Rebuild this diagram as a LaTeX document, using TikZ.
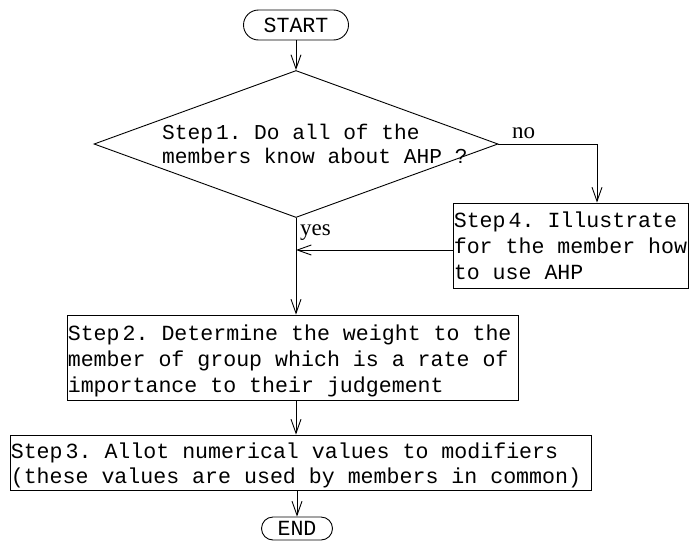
\documentclass[tikz,border=0pt]{standalone}
\usepackage{fontspec}
\setmonofont{Liberation Mono}
\newfontfamily\lblfont{Liberation Serif}
\usetikzlibrary{shapes.geometric,shapes.misc,arrows.meta}
\begin{document}
\begin{tikzpicture}[x=1pt,y=-1pt,
  every node/.style={inner sep=0pt},
  boxtext/.style={font=\ttfamily\fontsize{21.6}{26}\selectfont},
  pill/.style={draw, rounded rectangle, line width=0.9pt, boxtext},
  decision/.style={draw, diamond, line width=0.9pt, minimum width=404pt, minimum height=147pt, inner sep=0pt},
  stepbox/.style={draw, rectangle, line width=0.9pt, boxtext, align=flush left, inner xsep=0.8pt, inner ysep=0pt},
  lbl/.style={font=\lblfont\fontsize{23}{23}\selectfont},
  arr/.style={draw, line width=0.9pt, -{Straight Barb[length=14pt,width=10pt]}}
]
\useasboundingbox (0,0) rectangle (690,541);

\node[pill, minimum width=105pt, minimum height=30pt] (start) at (296,25) {START};
\node[decision] (d) at (296,144) {};
\node[font=\ttfamily\fontsize{21.2}{24}\selectfont, anchor=north west, align=flush left] (dtext) at (162,123.5)
  {\mbox{Step\hspace{3pt}1. Do all of the}\\\mbox{members know about AHP ?}};
\node[stepbox, text width=233.4pt, minimum height=85pt] (s4) at (570.5,245.5)
  {\mbox{Step\hspace{3pt}4. Illustrate}\\\mbox{for the member how}\\\mbox{to use AHP}\par\vspace{10pt}};
\node[stepbox, text width=449.4pt, minimum height=85pt] (s2) at (292.5,357.5)
  {\mbox{\rule{0pt}{22.5pt}Step\hspace{3pt}2. Determine the weight to the}\\\mbox{member of group which is a rate of}\\\mbox{importance to their judgement}};
\node[stepbox, font=\ttfamily\fontsize{21.6}{25}\selectfont, text width=579.4pt, minimum height=55pt] (s3) at (300.5,462.5)
  {\mbox{\rule{0pt}{20.5pt}Step\hspace{3pt}3. Allot numerical values to modifiers}\\\mbox{(these values are used by members in common)}};
\node[pill, minimum width=71pt, minimum height=23pt] (end) at (297,528.5) {END};

\node[lbl, anchor=base west] (no) at (512,138) {no};
\node[lbl, anchor=base west] (yes) at (300,235) {yes};

\coordinate (nocorner) at (597,144);
\coordinate (join) at (296,250);

\draw[arr] (start.south) -- (d.north);
\draw[arr] (d.east) -- (nocorner) -- (nocorner |- s4.north);
\draw[arr] (d.south) -- (d.south |- s2.north);
\draw[arr] (s4.west |- join) -- (join);
\draw[arr] (s2.south -| d.south) -- (s3.north -| d.south);
\draw[arr] (s3.south -| end.north) -- (end.north);
\end{tikzpicture}
\end{document}
